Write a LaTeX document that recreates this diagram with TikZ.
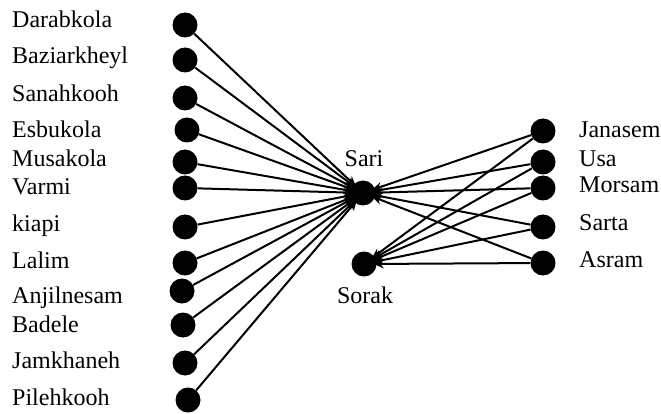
\documentclass[tikz,border=0pt]{standalone}
\usepackage{fontspec}
\setmainfont{Liberation Serif}
\usetikzlibrary{arrows.meta}
\begin{document}
\begin{tikzpicture}[x=1pt,y=-1pt,
  dot/.style={circle,fill=black,draw=none,minimum size=25pt,inner sep=0pt},
  lbl/.style={anchor=base west,inner sep=0pt,font=\fontsize{24}{28}\selectfont},
  clbl/.style={anchor=base,inner sep=0pt,font=\fontsize{24}{28}\selectfont},
  edge/.style={line width=2pt,shorten >=-3pt,-{Stealth[length=10pt,width=9pt]}}]
\useasboundingbox (0,0) rectangle (661,414);
% left nodes
\node[dot] (darab) at (185,25) {};
\node[dot] (bazi) at (185,60) {};
\node[dot] (sanah) at (185,98) {};
\node[dot] (esbu) at (187,130) {};
\node[dot] (musa) at (185,162) {};
\node[dot] (varmi) at (185,188) {};
\node[dot] (kiapi) at (185,227) {};
\node[dot] (lalim) at (185,263) {};
\node[dot] (anjil) at (182,291) {};
\node[dot] (badele) at (183,325) {};
\node[dot] (jamkh) at (185,363) {};
\node[dot] (pileh) at (188,400) {};
% centre
\node[dot] (sari) at (363,193) {};
\node[dot] (sorak) at (364,264) {};
% right
\node[dot] (janasem) at (543,131) {};
\node[dot] (usa) at (543,162) {};
\node[dot] (morsam) at (543,188) {};
\node[dot] (sarta) at (543,227) {};
\node[dot] (asram) at (543,263) {};
% labels
\node[lbl] (l1) at (12,28) {Darabkola};
\node[lbl] (l2) at (12,64) {Baziarkheyl};
\node[lbl] (l3) at (12,102) {Sanahkooh};
\node[lbl] (l4) at (12,138) {Esbukola};
\node[lbl] (l5) at (12,167) {Musakola};
\node[lbl] (l6) at (12,195) {Varmi};
\node[lbl] (l7) at (12,232) {kiapi};
\node[lbl] (l8) at (12,268) {Lalim};
\node[lbl] (l9) at (12,303) {Anjilnesam};
\node[lbl] (l10) at (12,332) {Badele};
\node[lbl] (l11) at (12,368) {Jamkhaneh};
\node[lbl] (l12) at (12,405) {Pilehkooh};
\node[clbl] (lsari) at (364,167) {Sari};
\node[clbl] (lsorak) at (365,303) {Sorak};
\node[lbl] (r1) at (579,138) {Janasem};
\node[lbl] (r2) at (579,167) {Usa};
\node[lbl] (r3) at (579,193) {Morsam};
\node[lbl] (r4) at (579,230) {Sarta};
\node[lbl] (r5) at (579,267) {Asram};
% edges
\foreach \n in {darab,bazi,sanah,esbu,musa,varmi,kiapi,lalim,anjil,badele,jamkh,pileh}
  \draw[edge] (\n) -- (sari);
\foreach \n in {janasem,usa,morsam,sarta,asram}{
  \draw[edge] (\n) -- (sari);
  \draw[edge] (\n) -- (sorak);
}
\end{tikzpicture}
\end{document}
